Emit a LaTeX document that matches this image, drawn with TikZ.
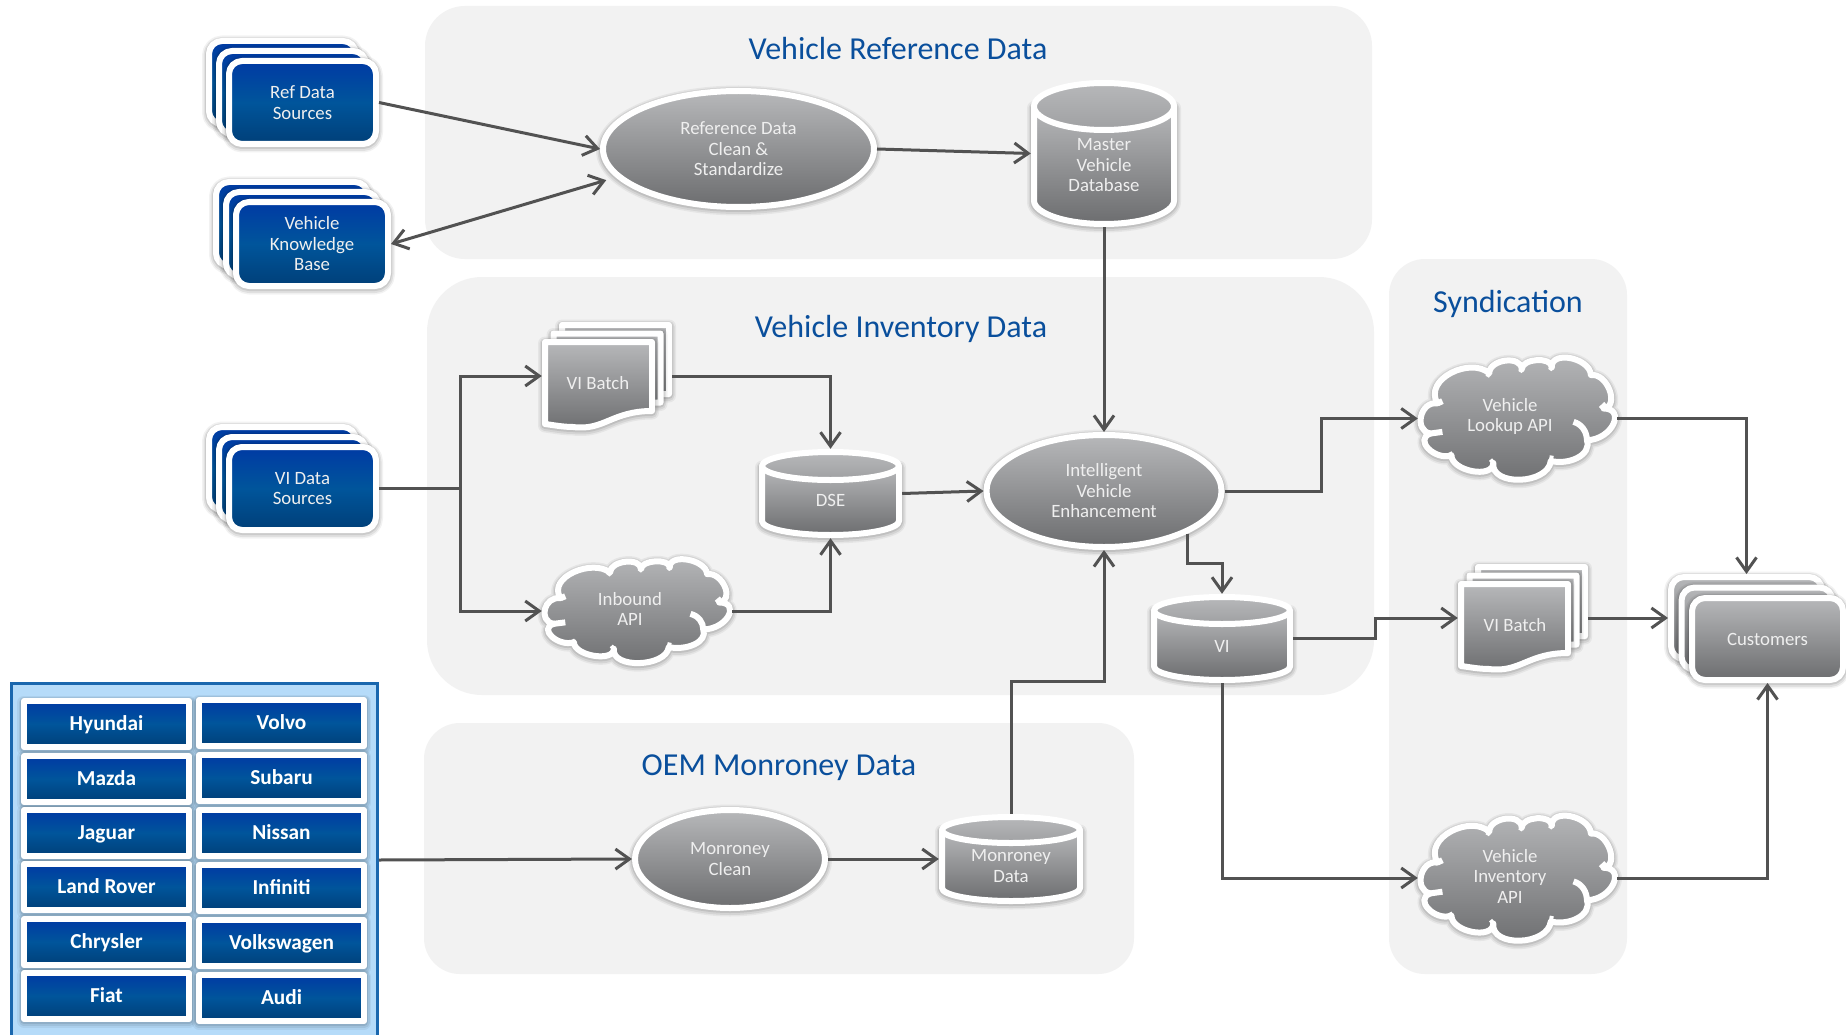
\documentclass[tikz,border=0pt]{standalone}
\usepackage{fontspec}
\setmainfont{Carlito}
\usetikzlibrary{arrows.meta,calc,shapes.geometric}
\definecolor{titleblue}{HTML}{0A4F9C}
\definecolor{panelgray}{HTML}{F2F2F2}
\definecolor{linegray}{HTML}{525252}
\definecolor{gtop}{HTML}{B7B8BA}
\definecolor{gbot}{HTML}{6C6D6F}
\definecolor{gmid}{HTML}{9FA0A2}
\definecolor{btop}{HTML}{003AA4}
\definecolor{bmid}{HTML}{00559B}
\definecolor{bbot}{HTML}{003F78}
\definecolor{boxfill}{HTML}{B5DBF9}
\definecolor{boxline}{HTML}{1A67AE}
\definecolor{labelwhite}{HTML}{EFEFEF}
\tikzset{
  softshadow/.style={
    preaction={transform canvas={yshift=-1.5pt},draw=black,draw opacity=.05,line width=14pt,line join=round},
    preaction={transform canvas={yshift=-1.5pt},draw=black,draw opacity=.07,line width=11pt,line join=round},
    preaction={transform canvas={yshift=-1pt},draw=black,draw opacity=.09,line width=8pt,line join=round}},
  whiteedge/.style={draw=white,line width=6pt,line join=round},
  grayfill/.style={top color=gtop,bottom color=gbot},
  bluefill/.style={top color=btop,bottom color=bbot,middle color=bmid},
  panel/.style={fill=panelgray,draw=none,inner sep=0pt},
  paneltitle/.style={text=titleblue,font=\fontsize{32}{36}\selectfont,inner sep=0pt},
  glabel/.style={text=labelwhite,font=\fontsize{18.8}{20.5}\selectfont,align=center,inner sep=0pt},
  bluecard/.style={whiteedge,softshadow,bluefill,rounded corners=13pt,inner sep=0pt,text=labelwhite,font=\fontsize{18.8}{20.5}\selectfont,align=center},
  graycard/.style={whiteedge,softshadow,grayfill,rounded corners=13pt,inner sep=0pt,text=labelwhite,font=\fontsize{18.8}{20.5}\selectfont,align=center},
  brandbox/.style={whiteedge,softshadow,bluefill,inner sep=0pt,minimum width=165pt,minimum height=46pt,text height=16pt,text depth=4pt,text=white,font=\bfseries\fontsize{21.3}{24}\selectfont},
  ovalnode/.style={ellipse,whiteedge,softshadow,grayfill,inner sep=0pt,text=labelwhite,font=\fontsize{18.8}{20.5}\selectfont,align=center},
  anchorbox/.style={rectangle,draw=none,fill=none,inner sep=0pt},
  conn/.style={draw=linegray,line width=3pt,-{Straight Barb[length=14pt,width=20pt,line width=3pt]}},
  connboth/.style={draw=linegray,line width=3pt,{Straight Barb[length=14pt,width=20pt,line width=3pt]}-{Straight Barb[length=14pt,width=20pt,line width=3pt]}},
  connplain/.style={draw=linegray,line width=3pt},
}
% stack of three cards: name, x0, y0 (outer front), w, h, offset, style, text
\newcommand{\cardstack}[8]{%
  \pgfmathsetmacro\rkcx{#2+#4/2}\pgfmathsetmacro\rkcy{#3+#5/2}%
  \node[#7,minimum width={(#4-6)*1pt},minimum height={(#5-6)*1pt}] (#1back) at ({\rkcx-2*#6},{\rkcy-2*#6}) {};
  \node[#7,minimum width={(#4-6)*1pt},minimum height={(#5-6)*1pt}] (#1mid) at ({\rkcx-#6},{\rkcy-#6}) {};
  \node[#7,minimum width={(#4-6)*1pt},minimum height={(#5-6)*1pt}] (#1) at (\rkcx,\rkcy) {#8};
}
% cylinder: name, x0, y0, x1, y1, ry, label y, text
\newcommand{\cylfig}[8]{%
  \pgfmathsetmacro\rkL{#2+3}\pgfmathsetmacro\rkR{#4-3}\pgfmathsetmacro\rkcx{(#2+#4)/2}%
  \pgfmathsetmacro\rkA{(#4-#2)/2-3}\pgfmathsetmacro\rkyc{#3+3+#6}\pgfmathsetmacro\rkyb{#5-3-#6}%
  \path[whiteedge,softshadow,grayfill] (\rkL,\rkyc) -- (\rkL,\rkyb)
    .. controls (\rkL,{\rkyb+.55*#6}) and ({\rkcx-.55*\rkA},{\rkyb+#6}) .. (\rkcx,{\rkyb+#6})
    .. controls ({\rkcx+.55*\rkA},{\rkyb+#6}) and (\rkR,{\rkyb+.55*#6}) .. (\rkR,\rkyb)
    -- (\rkR,\rkyc) -- cycle;
  \path[whiteedge,top color=gtop,bottom color=gmid] (\rkcx,\rkyc) ellipse [x radius=\rkA,y radius=#6];
  \node[anchorbox,minimum width={(#4-#2)*1pt},minimum height={(#5-#3)*1pt}] (#1) at (\rkcx,{(#3+#5)/2}) {};
  \node[glabel] (#1label) at (\rkcx,#7) {#8};
}
% one document sheet with wavy bottom, x0,y0 = outer top left
\newcommand{\docsheet}[2]{%
  \pgfmathsetmacro\rkL{#1+3}\pgfmathsetmacro\rkR{#1+110}\pgfmathsetmacro\rkT{#2+3}%
  \pgfmathsetmacro\rkBl{#2+85}\pgfmathsetmacro\rkBr{#2+72}%
  \path[whiteedge,softshadow,grayfill] (\rkL,\rkT) -- (\rkR,\rkT) -- (\rkR,\rkBr)
    .. controls ({\rkR-40},\rkBr) and ({\rkR-48},{\rkBl+7}) .. ({\rkL+28},{\rkBl+3})
    .. controls ({\rkL+18},{\rkBl+3}) and ({\rkL+8},{\rkBl+1}) .. (\rkL,\rkBl) -- cycle;
}
% document stack: name, x0, y0 of whole stack (top left), label x, label y, text
\newcommand{\docstack}[6]{%
  \docsheet{#2+17}{#3}
  \docsheet{#2+8.5}{#3+8.5}
  \docsheet{#2}{#3+17}
  \node[anchorbox,minimum width=130pt,minimum height=108pt] (#1) at ({#2+65},{#3+54}) {};
  \node[glabel] (#1label) at (#4,#5) {#6};
}
% cloud: name, x0, y0, w, h, label x, label y, text
\newcommand{\cloudfig}[8]{%
  \pgfmathsetmacro\rkSx{#4/595}\pgfmathsetmacro\rkSy{#5/380}%
  \begin{scope}[shift={({#2-55*\rkSx},{#3-45*\rkSy})},xscale=\rkSx,yscale=\rkSy]
    \path[whiteedge,softshadow,grayfill] (113,190)
      .. controls (70,115) and (215,50) .. (268,100)
      .. controls (268,57) and (365,45) .. (365,88)
      .. controls (365,55) and (455,49) .. (455,82)
      .. controls (452,30) and (569,53) .. (572,105)
      .. controls (621,98) and (659,198) .. (610,205)
      .. controls (677,205) and (637,298) .. (560,300)
      .. controls (575,345) and (505,375) .. (452,362)
      .. controls (444,433) and (272,439) .. (280,368)
      .. controls (280,416) and (155,393) .. (155,345)
      .. controls (105,362) and (42,297) .. (92,280)
      .. controls (41,271) and (62,181) .. (113,190) -- cycle;
    \path[draw=white,line width=6pt] (113,190) -- (128,183);
    \path[draw=white,line width=6pt] (92,280) -- (128,275);
    \path[draw=white,line width=6pt] (520,245) .. controls (545,252) and (560,275) .. (560,300);
    \path[draw=white,line width=6pt] (618,192) -- (602,207);
    \path[draw=white,line width=4pt] (268,100) -- (262,110);
    \path[draw=white,line width=4pt] (365,88) -- (360,96);
    \path[draw=white,line width=4pt] (455,82) -- (449,90);
    \path[draw=white,line width=4pt] (280,368) -- (272,358);
    \path[draw=white,line width=4pt] (155,345) -- (150,336);
    \path[draw=white,line width=4pt] (452,362) -- (455,346);
  \end{scope}
  \node[anchorbox,minimum width={#4*1pt},minimum height={#5*1pt}] (#1) at ({#2+#4/2},{#3+#5/2}) {};
  \node[glabel] (#1label) at (#6,#7) {#8};
}
\begin{document}
\begin{tikzpicture}[x=1pt,y=-1pt]
\useasboundingbox (0,0) rectangle (1846,1035);
\fill[white] (0,0) rectangle (1846,1035);

% panels
\node[panel,rounded corners=40pt,minimum width=947pt,minimum height=253pt] (refpanel) at (898.5,132.5) {};
\node[panel,rounded corners=55pt,minimum width=947pt,minimum height=418pt] (invpanel) at (900.5,486) {};
\node[panel,rounded corners=36pt,minimum width=710pt,minimum height=251pt] (oempanel) at (779,848.5) {};
\node[panel,rounded corners=36pt,minimum width=238pt,minimum height=715pt] (synpanel) at (1508,616.5) {};
\node[paneltitle] (reftitle) at (898,48.5) {Vehicle Reference Data};
\node[paneltitle] (invtitle) at (901,329) {Vehicle Inventory Data};
\node[paneltitle] (oemtitle) at (779,768) {OEM Monroney Data};
\node[paneltitle] (syntitle) at (1508,304) {Syndication};

% source stacks
\cardstack{refsrc}{226}{58}{153}{89}{10}{bluecard}{Ref Data\\Sources}
\cardstack{vkb}{233}{199}{158}{90}{10}{bluecard}{Vehicle\\Knowledge\\Base}
\cardstack{visrc}{226}{444}{153}{89}{10}{bluecard}{VI Data\\Sources}

% OEM container
\node[rectangle,fill=boxfill,draw=boxline,line width=2.5pt,inner sep=0pt,minimum width=366pt,minimum height=353pt] (oem) at (194.5,860) {};
\node[brandbox] (hyundai) at (106.5,724) {Hyundai};
\node[brandbox] (mazda) at (106.5,779) {Mazda};
\node[brandbox] (jaguar) at (106.5,833) {Jaguar};
\node[brandbox] (landrover) at (106.5,887) {Land Rover};
\node[brandbox] (chrysler) at (106.5,942) {Chrysler};
\node[brandbox] (fiat) at (106.5,996) {Fiat};
\node[brandbox] (volvo) at (281.5,723) {Volvo};
\node[brandbox] (subaru) at (281.5,778) {Subaru};
\node[brandbox] (nissan) at (281.5,833) {Nissan};
\node[brandbox] (infiniti) at (281.5,888) {Infiniti};
\node[brandbox] (volkswagen) at (281.5,943) {Volkswagen};
\node[brandbox] (audi) at (281.5,998) {Audi};

% ovals
\node[ovalnode,minimum width=271pt,minimum height=116pt] (refclean) at (738.5,149) {Reference Data\\Clean \&\\Standardize};
\node[ovalnode,minimum width=235pt,minimum height=112pt] (ive) at (1104,491) {Intelligent\\Vehicle\\Enhancement};
\node[ovalnode,minimum width=190pt,minimum height=98pt] (mclean) at (730,859) {Monroney\\Clean};

% cylinders
\cylfig{master}{1031}{80}{1177}{227}{23.5}{165.5}{Master\\Vehicle\\Database}
\cylfig{dse}{759}{449}{902}{538}{14}{500}{DSE}
\cylfig{vi}{1151}{594}{1293}{683}{13.5}{646}{VI}
\cylfig{mdata}{939}{814}{1083}{904}{13}{866}{Monroney\\Data}

% documents
\docstack{vibatch}{542}{322}{598}{383}{VI Batch}
\docstack{vibatchb}{1458}{564}{1515}{625}{VI Batch}

% clouds
\cloudfig{inbound}{542}{557}{190}{108}{630}{609}{Inbound\\API}
\cloudfig{lookup}{1418}{355}{199}{127}{1510}{416.5}{Vehicle\\Lookup API}
\cloudfig{invapi}{1418}{813}{199}{130}{1510}{876}{Vehicle\\Inventory\\API}

% customers
\cardstack{cust}{1689}{595}{157}{88}{10.5}{graycard}{Customers}

% connectors
\draw[conn] (refsrc.east) -- (refclean.west);
\draw[connboth,shorten >=10pt] (vkb.east) -- (refclean.193);
\draw[conn] (refclean.east) -- (master.west);
\draw[conn] (master.south) -- (ive.north);
\draw[connplain] (visrc.east) -- ++(81,0) coordinate (split);
\draw[conn] (split) |- (vibatch.west);
\draw[conn] (split) |- (inbound.west);
\draw[conn] (vibatch.east) -| (dse.north);
\draw[conn] (inbound.east) -| (dse.south);
\draw[conn] (dse.east) -- (ive.west);
\draw[conn] (ive.east) -- ++(97,0) |- (lookup.west);
\draw[conn] (ive.-27.4) -- ++(0,30) -| (vi.north);
\draw[conn] (vi.east) -- ++(82,0) |- (vibatchb.west);
\draw[conn] (vibatchb.east) -- (custback.west);
\draw[conn] (lookup.east) -| (custback.north);
\draw[conn] (vi.south) |- (invapi.west);
\draw[conn] (invapi.east) -| (cust.south);
\draw[conn] (oem.east) -- (mclean.west);
\draw[conn] (mclean.east) -- (mdata.west);
\draw[conn] (mdata.north) -- ++(0,-132) -| (ive.south);
\end{tikzpicture}
\end{document}
